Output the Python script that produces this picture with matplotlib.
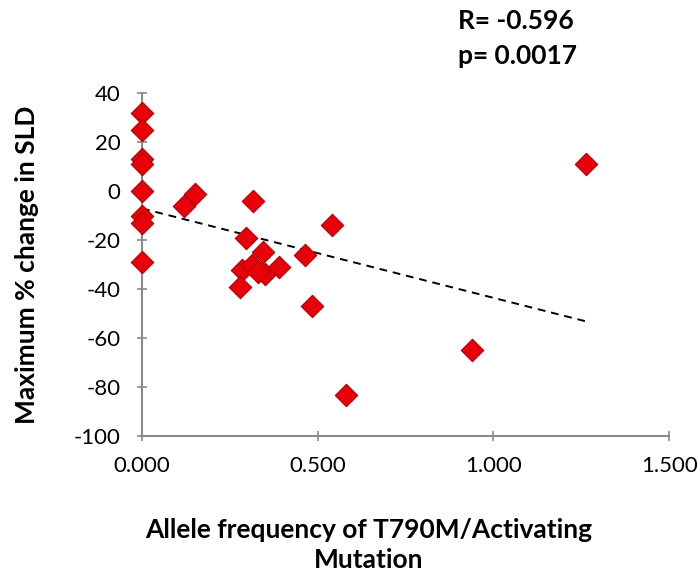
import numpy as np
import matplotlib.pyplot as plt

# allele frequency vs max % change in SLD
allele_freq = [0, 0, 0, 0, 0, 0, 0, 0,
               0.15, 0.12, 0.315, 0.54, 0.295, 0.345, 0.464, 0.284,
               0.312, 0.35, 0.39, 0.28, 0.33, 0.483, 0.94, 0.58, 1.263]
sld_change = [32, 25, 13, 11, 0, -10, -13, -29,
              -1, -6, -4, -14, -19, -25, -26, -32,
              -30, -34, -31, -39, -33, -47, -65, -83, 11]
r_text = "R= -0.596"
p_text = "p= 0.0017"

plt.rcParams['font.family'] = ['Lato', 'DejaVu Sans']
plt.rcParams['axes.unicode_minus'] = False

fig = plt.figure(figsize=(7, 5.74), dpi=100)
ax = fig.add_axes([0.203, 0.240, 0.753, 0.598])

ax.scatter(allele_freq, sld_change, marker="D", s=130, color="#e8000b",
           edgecolors="#b00000", linewidths=0.8, zorder=3, clip_on=False)

# linear trend line
slope, intercept = np.polyfit(allele_freq, sld_change, 1)
xs = np.array([0, max(allele_freq)])
ax.plot(xs, slope * xs + intercept, color="black", linestyle=(0, (4, 3)),
        linewidth=1.4, zorder=2)

ax.set_xlim(0, 1.5)
ax.set_ylim(-100, 40)
ax.set_xticks([0, 0.5, 1.0, 1.5])
ax.set_xticklabels(["0.000", "0.500", "1.000", "1.500"])
ax.set_yticks(range(-100, 41, 20))

for s in ["top", "right"]:
    ax.spines[s].set_visible(False)
for s in ["left", "bottom"]:
    ax.spines[s].set_color("#8a8a8a")
    ax.spines[s].set_linewidth(1.5)
ax.tick_params(axis="both", direction="inout", length=7, width=1.2,
               color="#8a8a8a", labelsize=16)
ax.tick_params(axis="y", pad=12)
ax.tick_params(axis="x", pad=11)

ax.set_xlabel("Allele frequency of T790M/Activating\nMutation",
              fontsize=19, fontweight="bold", labelpad=30, linespacing=1.28)
ax.xaxis.label.set_x(0.43)
ax.set_ylabel("Maximum % change in SLD", fontsize=19, fontweight="bold",
              labelpad=25)

fig.text(0.655, 0.963, r_text, fontsize=19, fontweight="bold", va="center")
fig.text(0.655, 0.903, p_text, fontsize=19, fontweight="bold", va="center")

fig.savefig("out.png", dpi=100)
